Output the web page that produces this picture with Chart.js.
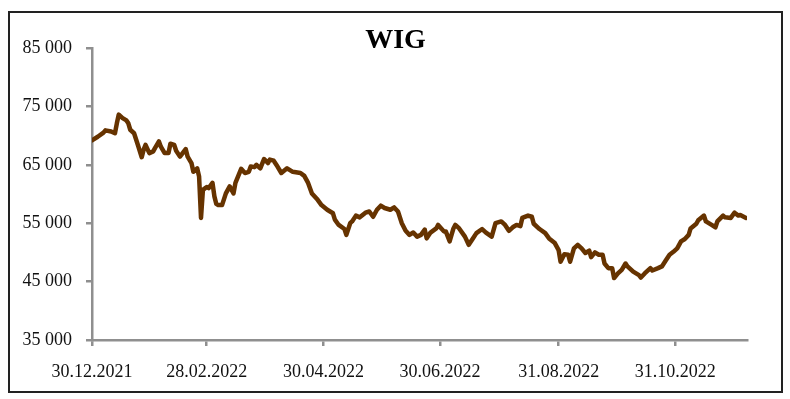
<!DOCTYPE html>
<html>
<head>
<meta charset="utf-8">
<script src="https://cdn.jsdelivr.net/npm/chart.js@4"></script>
<style>
    html, body { margin: 0; padding: 0; background: #fff; }
    #frame {
        position: absolute;
        left: 8px;
        top: 11px;
        width: 775px;
        height: 382px;
        box-sizing: border-box;
        border: 2px solid #222;
    }
    canvas { display: block; }
</style>
</head>
<body>
<div id="frame"><canvas id="wigChart" width="771" height="378"></canvas></div>
<script>
// WIG index, day offsets counted from 30.12.2021
const days = [
    0, 3, 6, 7, 10, 12, 13, 14, 16, 18, 19, 20, 22, 24, 26, 27, 28, 30, 32, 33,
    35, 36, 38, 40, 41, 43, 44, 46, 49, 50, 52, 53, 55, 56, 57, 58, 60, 61, 63, 64,
    65, 66, 68, 70, 72, 74, 75, 78, 80, 82, 83, 85, 86, 88, 90, 92, 93, 95, 97, 99,
    102, 105, 109, 111, 113, 115, 118, 120, 123, 126, 127, 129, 132, 133, 135, 136, 138, 140, 143, 145,
    147, 149, 151, 153, 156, 158, 160, 162, 164, 166, 168, 170, 172, 174, 175, 177, 180, 181, 184, 185,
    187, 189, 190, 192, 195, 197, 199, 201, 204, 206, 209, 211, 214, 216, 218, 220, 222, 224, 225, 228,
    230, 231, 234, 237, 239, 242, 244, 245, 247, 249, 250, 252, 254, 256, 258, 260, 261, 263, 265, 267,
    268, 270, 272, 273, 275, 277, 279, 280, 283, 286, 287, 289, 292, 293, 296, 298, 300, 302, 304, 306,
    308, 310, 312, 313, 316, 317, 320, 321, 324, 326, 327, 330, 331, 334, 336, 338, 339, 342
];

const wigValues = [
    69200, 69800, 70500, 70900, 70700, 70400, 72100, 73600, 73000, 72600, 72100, 71000, 70400, 68400, 66300, 67600, 68400, 67000, 67300, 67900,
    69000, 68100, 67000, 67000, 68600, 68400, 67400, 66400, 67700, 66400, 65300, 63800, 64400, 63000, 55900, 60700, 61200, 61000, 61900, 59600,
    58300, 58100, 58100, 60100, 61300, 60100, 61900, 64300, 63600, 63800, 64700, 64600, 65000, 64400, 66000, 65300, 65900, 65700, 64700, 63600,
    64400, 63800, 63600, 63100, 61900, 60100, 59000, 58100, 57300, 56700, 55600, 54700, 54000, 53000, 55000, 55300, 56300, 56000, 56800, 57000,
    56100, 57300, 58000, 57600, 57300, 57700, 57000, 55000, 53700, 53000, 53400, 52700, 53000, 53900, 52400, 53400, 54100, 54700, 53600, 53600,
    51900, 54100, 54700, 54100, 52700, 51300, 52300, 53300, 54000, 53400, 52700, 55000, 55300, 54700, 53700, 54300, 54700, 54500, 55900, 56300,
    56100, 54900, 54000, 53300, 52400, 51600, 50400, 48400, 49700, 49600, 48400, 50700, 51300, 50700, 49900, 50300, 49200, 50000, 49600, 49600,
    48100, 47300, 47300, 45600, 46400, 47000, 48100, 47600, 46700, 46100, 45700, 46400, 47300, 46900, 47300, 47600, 48600, 49600, 50100, 50700,
    51900, 52300, 53000, 54100, 54900, 55500, 56300, 55300, 54700, 54300, 55300, 56300, 56000, 55900, 56800, 56300, 56400, 55900
];

const tickDays = [0, 60, 121, 182, 244, 305];
const tickLabels = ['30.12.2021', '28.02.2022', '30.04.2022', '30.06.2022', '31.08.2022', '31.10.2022'];

const axisGrey = '#8f8f8f';
const labelFont = { family: '"Liberation Serif", "Times New Roman", serif', size: 18 };

const ctx = document.getElementById('wigChart').getContext('2d');

new Chart(ctx, {
    type: 'line',
    data: {
        datasets: [{
            label: 'WIG',
            data: days.map((d, i) => ({ x: d, y: wigValues[i] })),
            borderColor: '#663300',
            borderWidth: 4.5,
            borderJoinStyle: 'round',
            borderCapStyle: 'round',
            pointRadius: 0,
            tension: 0,
            fill: false
        }]
    },
    options: {
        responsive: false,
        animation: false,
        devicePixelRatio: 1,
        layout: {
            padding: { top: 14, right: 0, bottom: 0, left: 0 }
        },
        plugins: {
            legend: { display: false },
            tooltip: { enabled: false },
            title: {
                display: true,
                text: 'WIG',
                color: '#000',
                font: { family: labelFont.family, size: 28, weight: 'bold', lineHeight: 1 },
                padding: { top: 0, bottom: -7 }
            }
        },
        scales: {
            x: {
                type: 'linear',
                min: 0,
                max: 342.5,
                afterBuildTicks: scale => {
                    scale.ticks = tickDays.map(v => ({ value: v }));
                },
                afterFit: scale => { scale.height = 51; },
                ticks: {
                    color: '#111',
                    font: labelFont,
                    padding: 15,
                    maxRotation: 0,
                    autoSkip: false,
                    callback: value => tickLabels[tickDays.indexOf(value)]
                },
                grid: {
                    display: true,
                    drawOnChartArea: false,
                    drawTicks: true,
                    tickLength: 6,
                    color: axisGrey,
                    lineWidth: 2.5
                },
                border: { display: true, color: axisGrey, width: 2.5 }
            },
            y: {
                min: 35000,
                max: 85000,
                afterFit: scale => { scale.width = 82; },
                ticks: {
                    stepSize: 10000,
                    color: '#111',
                    font: labelFont,
                    padding: 14,
                    callback: value => String(value).replace(/(\d+)(\d{3})$/, '$1 $2')
                },
                grid: {
                    display: true,
                    drawOnChartArea: false,
                    drawTicks: true,
                    tickLength: 6,
                    color: axisGrey,
                    lineWidth: 2.5
                },
                border: { display: true, color: axisGrey, width: 2.5 }
            },
            // empty right-hand spacer so the title stays centred on the whole frame
            spacer: {
                type: 'linear',
                position: 'right',
                afterFit: scale => { scale.width = 34; },
                ticks: { display: false },
                grid: { display: false },
                border: { display: false }
            }
        }
    }
});
</script>
</body>
</html>
